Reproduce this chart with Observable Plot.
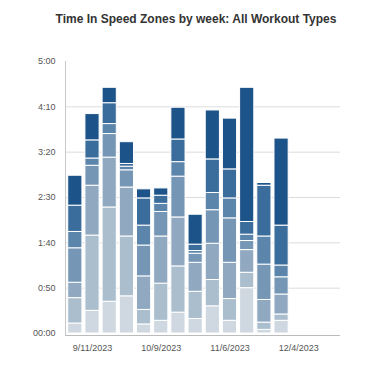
<!DOCTYPE html>
<html><head><meta charset="utf-8">
<script src="https://cdn.jsdelivr.net/npm/d3@7"></script>
<script src="https://cdn.jsdelivr.net/npm/@observablehq/plot@0.6"></script>
<style>
body{margin:0;background:#fff;font-family:"Liberation Sans",Arial,Helvetica,sans-serif}
#title{height:38px;box-sizing:border-box;padding-top:11px;padding-left:14px;font-size:12px;line-height:16px;font-weight:bold;color:#333;text-align:center;white-space:nowrap}
</style></head><body>
<div id="title">Time In Speed Zones by week: All Workout Types</div>
<div id="chart"></div>
<script>
const weeks = ["2023-09-04","2023-09-11","2023-09-18","2023-09-25","2023-10-02","2023-10-09","2023-10-16","2023-10-23","2023-10-30","2023-11-06","2023-11-13","2023-11-20","2023-11-27"];
const zones = ["Zone 1","Zone 2","Zone 3","Zone 4","Zone 5","Zone 6","Zone 7"];
// minutes per zone per week
const zone1 = [11, 25, 35, 41, 10, 14, 23, 16, 30, 14, 50, 4, 14];
const zone2 = [28, 83, 104, 66, 16, 41, 51, 30, 29, 24, 17, 8, 7];
const zone3 = [17, 55, 55, 54, 37, 52, 54, 32, 40, 40, 25, 25, 22];
const zone4 = [38, 22, 26, 19, 34, 27, 45, 10, 37, 49, 10, 39, 19];
const zone5 = [18, 8, 11, 4, 22, 9, 16, 3, 19, 22, 7, 31, 13];
const zone6 = [29, 20, 23, 3, 30, 9, 25, 7, 37, 32, 14, 56, 44];
const zone7 = [33, 29, 17, 24, 10, 8, 35, 33, 54, 56, 148, 3, 96];
const zoneColors = ["#cfd8e0","#abbecd","#90a9c0","#7596b4","#5b85ab","#3a6c9c","#1c5389"];
const yTicks = [0, 50, 100, 150, 200, 250, 300];
const yTickLabels = ["00:00","0:50","1:40","2:30","3:20","4:10","5:00"];
const xTicks = ["2023-09-11","2023-10-09","2023-11-06","2023-12-04"];
const xTickLabels = ["9/11/2023","10/9/2023","11/6/2023","12/4/2023"];
const xDomain = ["2023-08-31","2023-12-21"];

const zoneValues = [zone1, zone2, zone3, zone4, zone5, zone6, zone7];
const rows = weeks.flatMap((w, i) => zones.map((z, j) => ({week: new Date(w), zone: z, minutes: zoneValues[j][i]})));
const halfWeek = 3.5 * 864e5;
const xTickDates = xTicks.map(d => new Date(d));

const chart = Plot.plot({
  width: 378, height: 335,
  marginLeft: 65, marginRight: 38, marginTop: 23, marginBottom: 40,
  style: {fontFamily: '"Liberation Sans", Arial, Helvetica, sans-serif', fontSize: "9px", color: "#555", background: "#fff"},
  x: {type: "utc", domain: xDomain.map(d => new Date(d)), ticks: xTickDates,
      tickFormat: d => xTickLabels[xTickDates.findIndex(t => +t === +d)], tickSize: 0, tickPadding: 11, label: null},
  y: {domain: [0, 300], ticks: yTicks, tickFormat: d => yTickLabels[yTicks.indexOf(d)], tickSize: 0, tickPadding: 10, label: null},
  color: {domain: zones, range: zoneColors},
  marks: [
    Plot.ruleY(yTicks.slice(1, -1), {stroke: "#dcdcdc"}),
    Plot.ruleX([new Date(xDomain[0])], {stroke: "#c8c8c8", insetBottom: -2}),
    Plot.rectY(rows, {x1: d => new Date(+d.week - halfWeek), x2: d => new Date(+d.week + halfWeek), y: "minutes", fill: "zone", stroke: "white", strokeWidth: 1, insetLeft: 1.5, insetRight: 1.5}),
    Plot.ruleY([0], {dy: 2, stroke: "#bbb"})
  ]
});
document.getElementById("chart").appendChild(chart);
</script>
</body></html>
